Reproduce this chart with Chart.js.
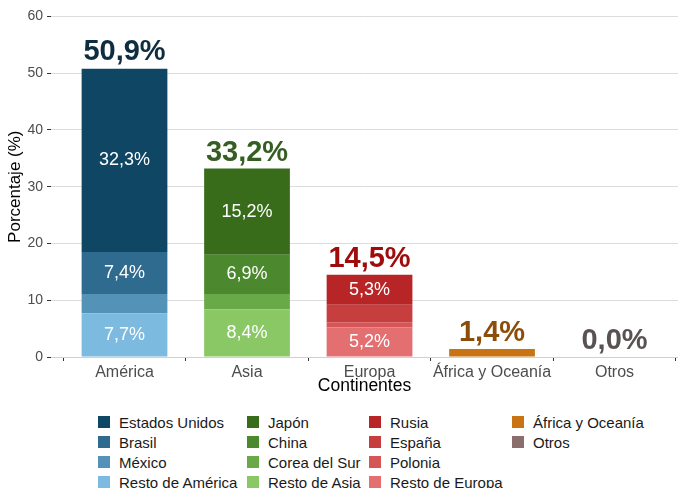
<!DOCTYPE html>
<html>
<head>
<meta charset="utf-8">
<script src="https://cdn.jsdelivr.net/npm/chart.js@4.4.1/dist/chart.umd.min.js"></script>
<style>
    html, body { margin: 0; padding: 0; background: #fff; overflow: hidden; }
    #wrap { position: relative; width: 678px; height: 488px; overflow: hidden; font-family: "Liberation Sans", Arial, sans-serif; }
    #chart { position: absolute; left: 0; top: 4px; }
    #legend { position: absolute; left: 98px; top: 412px; display: grid; grid-template-rows: repeat(4, 20px); grid-auto-flow: column; grid-template-columns: 149px 122px 143px 150px; }
    .item { display: flex; align-items: center; font-size: 15px; color: #1a1a1a; white-space: nowrap; height: 20px; }
    .box { width: 12px; height: 12px; margin-right: 9px; flex: none; }
</style>
</head>
<body>
<div id="wrap">
    <canvas id="chart" width="678" height="400"></canvas>
    <div id="legend"></div>
</div>
<script>
(function() {
    'use strict';

    // Categories and values (percent)
    const continents = ['América', 'Asia', 'Europa', 'África y Oceanía', 'Otros'];
    const yTicks = [0, 10, 20, 30, 40, 50, 60];

    const countries = [
        'Resto de América', 'México', 'Brasil', 'Estados Unidos',
        'Resto de Asia', 'Corea del Sur', 'China', 'Japón',
        'Resto de Europa', 'Polonia', 'España', 'Rusia',
        'África y Oceanía', 'Otros'
    ];
    const countryContinent = [0, 0, 0, 0, 1, 1, 1, 1, 2, 2, 2, 2, 3, 4];
    const countryValues = [7.7, 3.4, 7.4, 32.3, 8.4, 2.7, 6.9, 15.2, 5.2, 0.9, 3.1, 5.3, 1.4, 0.0];
    const countryColors = [
        '#7dbadf', '#5592b7', '#2f6b8f', '#0f4663',
        '#89c865', '#6aa948', '#4c892e', '#386c1b',
        '#e36f70', '#d65556', '#c73e3f', '#b82527',
        '#c87413', '#8a6e6e'
    ];
    const totals = [50.9, 33.2, 14.5, 1.4, 0.0];
    const totalColors = ['#0f2d40', '#355e22', '#a00b0b', '#8b4e0a', '#5a5252'];

    // legend order (column-major, like the reference)
    const legendOrder = [
        'Estados Unidos', 'Brasil', 'México', 'Resto de América',
        'Japón', 'China', 'Corea del Sur', 'Resto de Asia',
        'Rusia', 'España', 'Polonia', 'Resto de Europa',
        'África y Oceanía', 'Otros'
    ];

    const fmt = v => v.toFixed(1).replace('.', ',') + '%';
    const FONT = '"Liberation Sans", Arial, sans-serif';

    const datasets = countries.map((name, i) => ({
        label: name,
        data: [{ x: countryContinent[i] + 1, y: countryValues[i] }],
        backgroundColor: countryColors[i],
        borderWidth: 0,
        categoryPercentage: 1,
        barPercentage: 0.7,
        stack: 's'
    }));

    // Segment labels + totals
    const labelsPlugin = {
        id: 'barLabels',
        afterDatasetsDraw(chart) {
            const ctx = chart.ctx;
            const xs = chart.scales.x, ys = chart.scales.y;
            ctx.save();
            ctx.textAlign = 'center';
            ctx.textBaseline = 'middle';
            ctx.fillStyle = '#ffffff';
            ctx.font = '18px ' + FONT;
            chart.data.datasets.forEach((ds, i) => {
                const v = countryValues[i];
                if (v < 5) return;
                const bar = chart.getDatasetMeta(i).data[0];
                ctx.fillText(fmt(v), bar.x, (bar.y + bar.base) / 2);
            });
            ctx.font = 'bold 29px ' + FONT;
            ctx.textBaseline = 'alphabetic';
            totals.forEach((t, i) => {
                ctx.fillStyle = totalColors[i];
                ctx.fillText(fmt(t), xs.getPixelForValue(i + 1), ys.getPixelForValue(t) - 8);
            });
            ctx.restore();
        }
    };

    const chart = new Chart(document.getElementById('chart'), {
        type: 'bar',
        data: { datasets: datasets },
        options: {
            responsive: false,
            animation: false,
            layout: { padding: { left: 0, right: 0, top: 0, bottom: 7 } },
            plugins: {
                legend: { display: false },
                tooltip: { enabled: false }
            },
            scales: {
                x: {
                    type: 'linear',
                    stacked: true,
                    offset: false,
                    min: 0.4,
                    max: 5.518,
                    afterBuildTicks: s => { s.ticks = continents.map((_, i) => ({ value: i + 1 })); },
                    afterFit: s => { s.height = 40; },
                    grid: { display: true, drawOnChartArea: false, tickLength: 4, tickColor: '#333333', color: '#333333' },
                    border: { display: true, color: '#d0d0d0' },
                    ticks: {
                        padding: 2,
                        color: '#4d4d4d',
                        font: { size: 16, family: FONT },
                        maxRotation: 0,
                        autoSkip: false,
                        callback: v => continents[v - 1]
                    },
                    title: {
                        display: true,
                        text: 'Continentes',
                        color: '#000000',
                        font: { size: 17.5, family: FONT },
                        padding: { top: 0, bottom: 0 }
                    }
                },
                y: {
                    stacked: true,
                    min: 0,
                    max: 60,
                    afterBuildTicks: s => { s.ticks = yTicks.map(v => ({ value: v })); },
                    afterFit: s => { s.width = 51; },
                    grid: { color: '#dcdcdc', tickColor: '#333333', tickLength: 4, lineWidth: 1 },
                    border: { display: false },
                    ticks: {
                        padding: 4,
                        color: '#4d4d4d',
                        font: { size: 14, family: FONT }
                    },
                    title: {
                        display: true,
                        text: 'Porcentaje (%)',
                        color: '#000000',
                        font: { size: 17, family: FONT },
                        padding: { top: 5, bottom: 0 }
                    }
                }
            }
        },
        plugins: [labelsPlugin]
    });

    // HTML legend, column-major
    const legend = document.getElementById('legend');
    legendOrder.forEach(name => {
        const ds = chart.data.datasets.find(d => d.label === name);
        const item = document.createElement('div');
        item.className = 'item';
        const box = document.createElement('span');
        box.className = 'box';
        box.style.background = ds.backgroundColor;
        item.appendChild(box);
        item.appendChild(document.createTextNode(name));
        legend.appendChild(item);
    });
})();
</script>
</body>
</html>
